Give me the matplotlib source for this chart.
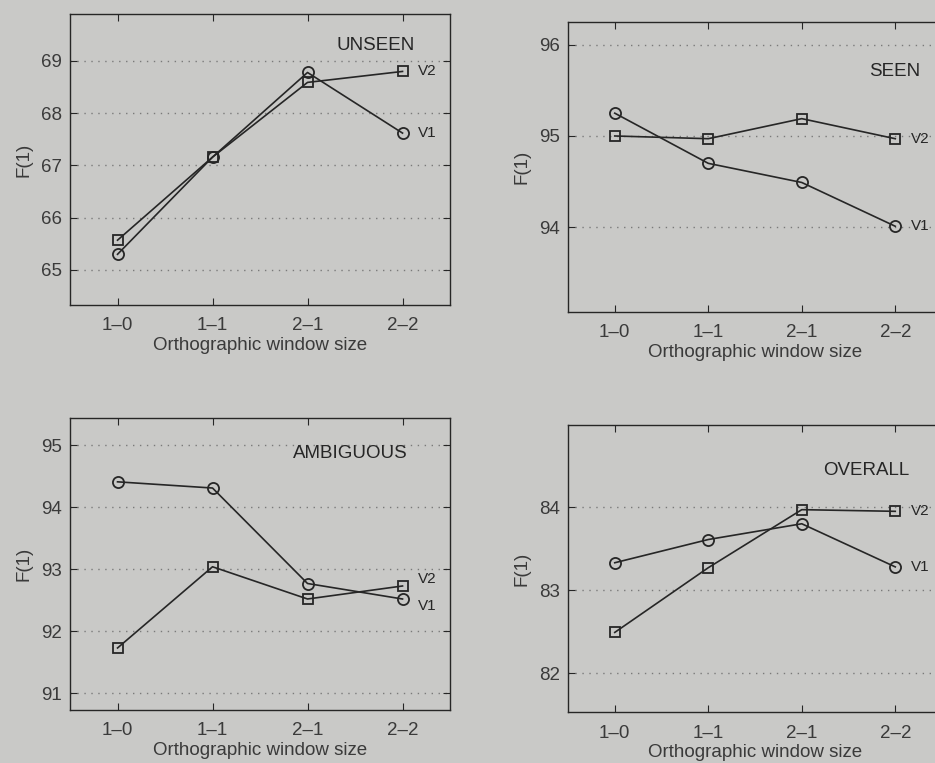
import matplotlib
matplotlib.use("Agg")
import matplotlib.pyplot as plt

plt.rcParams['font.family'] = ['Liberation Sans', 'DejaVu Sans']

window_sizes = ["1\u20130", "1\u20131", "2\u20131", "2\u20132"]

unseen_v1 = [65.30, 67.16, 68.78, 67.62]
unseen_v2 = [65.57, 67.16, 68.59, 68.80]

seen_v1 = [95.25, 94.70, 94.49, 94.01]
seen_v2 = [95.00, 94.97, 95.19, 94.97]

ambig_v1 = [94.41, 94.31, 92.77, 92.52]
ambig_v2 = [91.73, 93.04, 92.52, 92.73]

overall_v1 = [83.33, 83.61, 83.80, 83.28]
overall_v2 = [82.49, 83.27, 83.97, 83.95]

bg = '#c9c9c7'
ink = '#262626'
txt = '#3a3a3a'

fig = plt.figure(figsize=(9.35, 7.63), dpi=100, facecolor=bg)

panels = [
    dict(pos=[0.0749, 0.6003, 0.4064, 0.3814], v1=unseen_v1, v2=unseen_v2,
         ylim=(64.33, 69.9), yticks=[65, 66, 67, 68, 69], title="UNSEEN",
         tpos=(0.805, 0.893), dy=(0, 0)),
    dict(pos=[0.6075, 0.5911, 0.4000, 0.3801], v1=seen_v1, v2=seen_v2,
         ylim=(93.07, 96.25), yticks=[94, 95, 96], title="SEEN",
         tpos=(0.874, 0.828), dy=(0, 0)),
    dict(pos=[0.0749, 0.0695, 0.4064, 0.3827], v1=ambig_v1, v2=ambig_v2,
         ylim=(90.73, 95.44), yticks=[91, 92, 93, 94, 95], title="AMBIGUOUS",
         tpos=(0.737, 0.88), dy=(-5, 5)),
    dict(pos=[0.6075, 0.0668, 0.4000, 0.3761], v1=overall_v1, v2=overall_v2,
         ylim=(81.53, 84.99), yticks=[82, 83, 84], title="OVERALL",
         tpos=(0.797, 0.843), dy=(0, 0)),
]

xs = list(range(1, len(window_sizes) + 1))

for p in panels:
    ax = fig.add_axes(p['pos'])
    ax.set_facecolor(bg)
    ax.set_xlim(0.5, 4.5)
    ax.set_ylim(*p['ylim'])
    ax.set_yticks(p['yticks'])
    ax.set_xticks(xs)
    ax.set_xticklabels(window_sizes)
    ax.grid(axis='y', linestyle=(0, (1, 4)), color='#7a7a7a', linewidth=1.0)
    ax.set_axisbelow(True)
    for s in ax.spines.values():
        s.set_color(ink)
        s.set_linewidth(1.0)
    ax.tick_params(direction='in', top=True, right=True, length=5,
                   colors=ink, labelsize=13.5, labelcolor=txt)
    ax.tick_params(axis='x', pad=9)
    ax.tick_params(axis='y', pad=6)
    ax.plot(xs, p['v1'], color=ink, linewidth=1.2, marker='o',
            markersize=8, markerfacecolor='none', markeredgecolor=ink,
            markeredgewidth=1.3)
    ax.plot(xs, p['v2'], color=ink, linewidth=1.2, marker='s',
            markersize=6.5, markerfacecolor='none', markeredgecolor=ink,
            markeredgewidth=1.3)
    ax.annotate("V1", (xs[-1], p['v1'][-1]), xytext=(11, p['dy'][0]),
                textcoords='offset points', va='center', ha='left',
                fontsize=11, color=ink)
    ax.annotate("V2", (xs[-1], p['v2'][-1]), xytext=(11, p['dy'][1]),
                textcoords='offset points', va='center', ha='left',
                fontsize=11, color=ink)
    ax.text(p['tpos'][0], p['tpos'][1], p['title'], transform=ax.transAxes,
            ha='center', va='center', fontsize=13.5, color=ink)
    ax.set_xlabel("Orthographic window size", fontsize=13.5, color=txt,
                  labelpad=2)
    ax.set_ylabel("F(1)", fontsize=13.5, color=txt, labelpad=6)

fig.savefig("out.png", dpi=100, facecolor=bg)
